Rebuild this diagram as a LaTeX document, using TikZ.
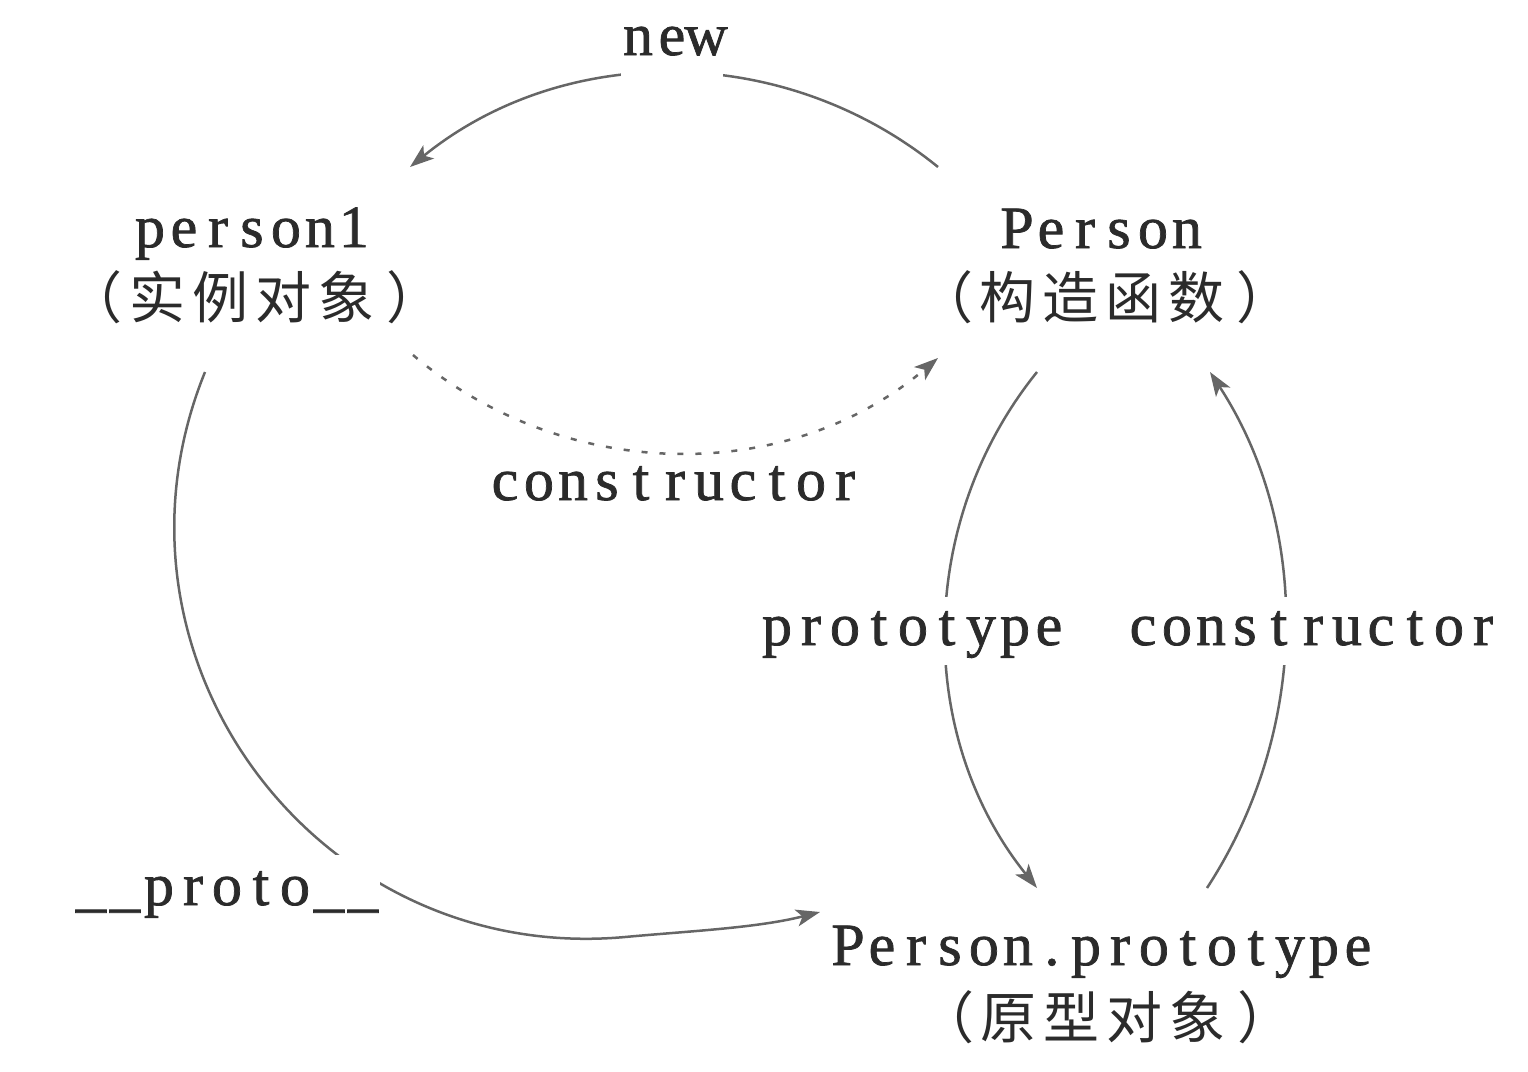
\documentclass[tikz,border=0pt]{standalone}
\usepackage{fontspec}
\setmainfont{Liberation Serif}[FakeBold=1.2]
\newfontfamily\cjk{Noto Sans CJK SC}
\usetikzlibrary{arrows.meta}
\definecolor{txt}{HTML}{2B2B2B}
\definecolor{edge}{HTML}{666666}
\makeatletter
\newcommand\mtext[1]{\mt@loop#1\relax}
\def\mt@loop#1{\ifx#1\relax\else\makebox[17pt]{#1}\expandafter\mt@loop\fi}
\def\ct@loop#1{\ifx#1\relax\else\makebox[31.5pt]{#1}\expandafter\ct@loop\fi}
\newcommand\cjkrow[1]{\makebox[16pt][r]{（\kern1.5pt}\ct@loop#1\relax\makebox[16pt][l]{\kern4.5pt）}}
\makeatother
\begin{document}
\begin{tikzpicture}[x=0.5pt,y=-0.5pt,
  lab/.style={inner sep=0pt, text=txt, font=\fontsize{30pt}{34pt}\selectfont, anchor=base},
  cn/.style={inner sep=0pt, text=txt, font=\cjk\fontsize{28pt}{32pt}\selectfont, anchor=base},
  bg/.style={fill=white},
  conn/.style={draw=edge, line width=1.25pt, -{Stealth[length=12pt,width=8.5pt,inset=3pt]}},
  dotconn/.style={conn, dash pattern=on 3pt off 6pt}]
\useasboundingbox (0,0) rectangle (1528,1072);

% main nodes
\node[lab] (p1) at (252,247) {\mtext{person1}};
\node[cn] (p1c) at (252,318) {\cjkrow{实例对象}};
\node[lab] (per) at (1102,248) {\mtext{Person}};
\node[cn] (perc) at (1102,318) {\cjkrow{构造函数}};
\node[lab] (pp) at (1103,965) {\mtext{Person.prototype}};
\node[cn] (ppc) at (1103,1038) {\cjkrow{原型对象}};

% connector end points
\coordinate (newS) at (938,167);
\coordinate (newE) at (410,167);
\coordinate (dotS) at (413,355);
\coordinate (dotE) at (938,358);
\coordinate (prS) at (205,372);
\coordinate (prM) at (625,937);
\coordinate (prE) at (820,912);
\coordinate (ptS) at (1037,372);
\coordinate (ptE) at (1037,888);
\coordinate (csS) at (1207,888);
\coordinate (csE) at (1210,372);

% connectors
\draw[conn] (newS) .. controls (784,42) and (564,42) .. (newE);
\draw[dotconn] (dotS) .. controls (564,483) and (787,486) .. (dotE);
\draw[conn] (prS) .. controls (89,658) and (317,965) .. (prM)
            .. controls (690,931) and (757,928) .. (prE);
\draw[conn] (ptS) .. controls (915.7,522.6) and (915.7,737.4) .. (ptE);
\draw[conn] (csS) .. controls (1309,731.5) and (1312,528.5) .. (csE);

% connector labels
\node[lab,bg,text height=24pt,text depth=12pt] (lnew) at (672,55) {\mtext{new}};
\node[lab] (lcons) at (675,500) {\mtext{constructor}};
\node[lab,bg,text height=24pt,text depth=10pt] (lproto) at (913,645) {\mtext{prototype}};
\node[lab,bg,text height=24pt,text depth=10pt] (lcons2) at (1313,645) {\mtext{constructor}};
\node[lab,bg,text height=25pt,text depth=10pt] (l__) at (227,905) {\mtext{\_\_proto\_\_}};
\end{tikzpicture}
\end{document}
